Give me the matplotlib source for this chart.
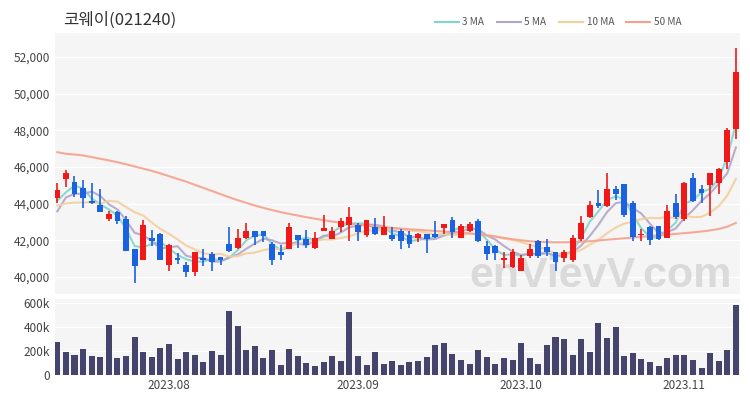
import matplotlib
matplotlib.use('Agg')
import matplotlib.pyplot as plt
from matplotlib.lines import Line2D
import numpy as np
import pandas as pd

plt.rcParams['font.family'] = ['Noto Sans CJK KR', 'DejaVu Sans']

title = '코웨이(021240)'
holidays = ['2023-08-15', '2023-09-28', '2023-09-29', '2023-10-02', '2023-10-03', '2023-10-09']
dates = [d for d in pd.bdate_range('2023-07-13', '2023-11-09') if d.strftime('%Y-%m-%d') not in holidays]

opens = [44300, 45350, 45200, 44850, 44150, 43900, 43150, 43550, 43150, 41500,
         40950, 42100, 42350, 40650, 41050, 40650, 40250, 41050, 41250, 41100,
         41800, 41600, 42100, 42500, 42500, 41800, 41350, 41550, 42300, 42050,
         41600, 42500, 42050, 42700, 42850, 42850, 42300, 42700, 42300, 42300,
         42500, 42300, 42100, 42350, 42350, 42650, 43100, 42150, 42500, 43050,
         41700, 41700, 40900, 40550, 40350, 41150, 41950, 41650, 41350, 41050,
         40900, 42050, 43250, 44050, 43850, 44800, 45050, 44050, 42300, 42700,
         42800, 42150, 44050, 43150, 45400, 44800, 45000, 45100, 46300, 48050]
highs = [45150, 45850, 45500, 45300, 45100, 44800, 43600, 43600, 43350, 41500,
         43100, 42550, 42400, 41800, 41300, 40800, 41350, 41500, 41350, 41100,
         42700, 42600, 42950, 42500, 42500, 41900, 41750, 42950, 42300, 42550,
         42450, 43400, 42750, 43200, 43800, 42950, 43100, 43200, 43300, 42700,
         42600, 42500, 42400, 42350, 43050, 42900, 43250, 42900, 43000, 43150,
         41950, 41750, 41350, 41500, 41200, 41800, 42000, 42050, 41350, 41450,
         42300, 43300, 44150, 44750, 45650, 44950, 45050, 44150, 42600, 42800,
         42800, 43950, 44550, 45200, 45650, 45000, 45650, 45950, 48150, 52500]
lows = [44050, 44900, 44350, 43750, 44000, 43550, 43050, 42900, 41400, 39650,
        40950, 41700, 40950, 40350, 40700, 40000, 40050, 40600, 40350, 40650,
        41350, 41550, 42050, 41750, 41900, 40650, 40950, 41500, 41600, 41600,
        41550, 42500, 42050, 42450, 41950, 41950, 42200, 42300, 42300, 41950,
        41500, 41600, 41900, 41300, 42150, 42350, 42150, 42100, 42450, 41900,
        40950, 40950, 40500, 40500, 40300, 41050, 41050, 41150, 40350, 40800,
        40800, 41950, 43200, 43750, 43800, 44200, 43250, 41950, 41950, 41750,
        42000, 42100, 43150, 43050, 44100, 44050, 43300, 44550, 45900, 47550]
closes = [44750, 45700, 44500, 44300, 44050, 43550, 43450, 43050, 41400, 40600,
          42850, 41950, 40950, 41750, 40900, 40250, 41350, 40900, 40800, 40900,
          41400, 42100, 42500, 42200, 42250, 40950, 41200, 42750, 42000, 41750,
          42150, 42650, 42500, 43050, 43250, 42450, 43100, 42350, 42700, 42050,
          41950, 41800, 42350, 42050, 42200, 42900, 42450, 42800, 42900, 41950,
          41250, 41300, 41050, 41350, 41050, 41550, 41150, 41350, 40800, 41350,
          42150, 42950, 43950, 43850, 44800, 44550, 43400, 42200, 42350, 42000,
          42050, 43600, 43250, 45150, 44150, 44600, 45650, 45900, 48000, 51200]
volumes = [272, 189, 167, 217, 156, 147, 417, 144, 156, 317,
           189, 153, 225, 258, 136, 189, 167, 111, 203, 167,
           531, 411, 208, 244, 139, 208, 86, 217, 161, 100,
           72, 111, 161, 119, 522, 156, 83, 189, 92, 117,
           80, 106, 114, 153, 250, 269, 175, 122, 94, 208,
           150, 92, 142, 128, 264, 139, 89, 250, 317, 297,
           169, 297, 189, 431, 311, 397, 158, 186, 131, 111,
           78, 139, 164, 167, 122, 61, 181, 119, 206, 586]
volumes = [v * 1000 for v in volumes]
# closes before the visible window (inferred from where the short MAs start)
prior_closes = [44500, 44000, 44300, 43900, 44300, 41900, 43500, 44350, 43400]
# 50-day MA
ma50 = [46810, 46720, 46680, 46630, 46540, 46450, 46360, 46260, 46150, 46030,
        45910, 45790, 45650, 45500, 45350, 45200, 45030, 44860, 44690, 44520,
        44350, 44190, 44040, 43900, 43770, 43650, 43540, 43440, 43350, 43260,
        43180, 43100, 43020, 42960, 42900, 42850, 42800, 42760, 42720, 42680,
        42640, 42600, 42570, 42540, 42510, 42480, 42450, 42420, 42380, 42330,
        42270, 42200, 42130, 42060, 42000, 41950, 41920, 41900, 41890, 41890,
        41900, 41920, 41950, 41990, 42030, 42070, 42110, 42150, 42190, 42230,
        42270, 42310, 42350, 42390, 42430, 42480, 42540, 42620, 42740, 42950]

ma_windows = [3, 5, 10]
ma_labels = ['3 MA', '5 MA', '10 MA', '50 MA']
ma_colors = ['#7fd6cc', '#b3a5cb', '#f3cf9c', '#f6a08c']
up_color = '#f01818'
down_color = '#1a62e0'
vol_color = '#44446c'
bg = '#f5f5f5'

n = len(closes)
x = np.arange(n)
o = np.array(opens); h = np.array(highs); l = np.array(lows); c = np.array(closes)
up = c >= o

fig = plt.figure(figsize=(7.5, 4.0), dpi=100)
ax = fig.add_axes([55/750, 1-294/400, 685/750, 261/400])
axv = fig.add_axes([55/750, 1-375/400, 685/750, 76/400], sharex=ax)

for a in (ax, axv):
    a.set_facecolor(bg)
    for s in a.spines.values():
        s.set_visible(False)
    a.tick_params(length=0, labelsize=8.5, colors='#444444')
    a.grid(axis='y', color='white', linewidth=1.0)
    a.set_axisbelow(True)

# MA lines
allc = pd.Series(prior_closes + closes, dtype=float)
for w, col in zip(ma_windows, ma_colors[:3]):
    ma = allc.rolling(w).mean().iloc[len(prior_closes):].values
    ax.plot(x, ma, color=col, linewidth=1.5, alpha=0.9, zorder=2)
ax.plot(x, ma50, color=ma_colors[3], linewidth=1.5, alpha=0.9, zorder=2)

# candles
colors = np.where(up, up_color, down_color)
ax.vlines(x, l, h, colors=colors, linewidth=1.2, zorder=3)
body_bottom = np.minimum(o, c)
body_h = np.maximum(np.abs(c - o), 40)
ax.bar(x, body_h, bottom=body_bottom, width=0.68, color=colors, zorder=4, linewidth=0)

ax.set_ylim(39069, 53314)
ax.set_yticks(np.arange(40000, 52001, 2000))
ax.yaxis.set_major_formatter(matplotlib.ticker.FuncFormatter(lambda v, p: f'{v:,.0f}'))
ax.set_xlim(-0.27, 79.48)
plt.setp(ax.get_xticklabels(), visible=False)

ax.text(0.988, 0.025, 'enVievV.com', transform=ax.transAxes, ha='right', va='baseline',
        fontsize=31, fontweight='bold', color='#dadada', zorder=1, family='Liberation Sans')

# volume
axv.bar(x, volumes, width=0.7, color=vol_color, zorder=3, linewidth=0)
axv.set_ylim(0, 633000)
axv.set_yticks([0, 200000, 400000, 600000])
axv.yaxis.set_major_formatter(matplotlib.ticker.FuncFormatter(lambda v, p: '0' if v == 0 else f'{v/1000:.0f}k'))

months = [d.strftime('%Y.%m') for d in dates]
tick_pos = [i for i in range(n) if i > 0 and months[i] != months[i-1]]
axv.set_xticks(tick_pos)
axv.set_xticklabels([months[i] for i in tick_pos])
axv.tick_params(axis='x', pad=3)

fig.text(63/750, 1-20/400, title, fontsize=12, va='center', ha='left', color='#333333')

handles = [Line2D([0], [0], color=col, linewidth=1.5) for col in ma_colors]
fig.legend(handles, ma_labels, loc='center right', bbox_to_anchor=(0.921, 1-22/400), ncol=4,
           frameon=False, fontsize=7.2, handlelength=2.4, columnspacing=1.2, handletextpad=0.4,
           labelcolor='#555555')

fig.savefig('out.png', dpi=100, facecolor='white')
